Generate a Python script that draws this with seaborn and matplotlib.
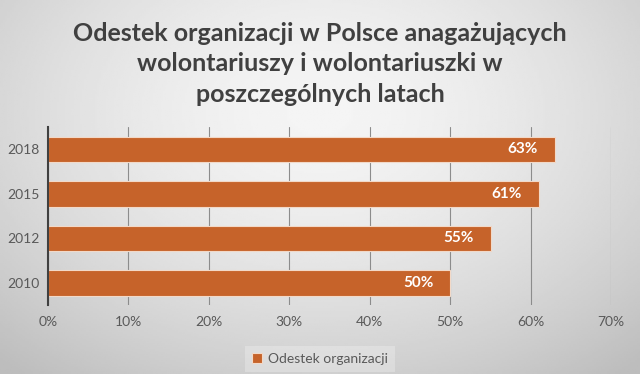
import numpy as np
import pandas as pd
import seaborn as sns
import matplotlib.pyplot as plt
from matplotlib.ticker import PercentFormatter, MultipleLocator

# Data
years = ["2018", "2015", "2012", "2010"]
shares = [63, 61, 55, 50]
series_name = "Odestek organizacji"
title = "Odestek organizacji w Polsce anagażujących\nwolontariuszy i wolontariuszki w\nposzczególnych latach"

df = pd.DataFrame({"rok": years, "odsetek": shares, "seria": series_name})

sns.set_theme(style="white")
plt.rcParams['font.family'] = ['Lato', 'DejaVu Sans']

bar_color = "#C6632A"
text_color = "#595959"

fig = plt.figure(figsize=(6.4, 3.74), dpi=100)

# gradient background (light centre, darker edges)
bg = fig.add_axes([0, 0, 1, 1], zorder=-10)
yy, xx = np.mgrid[0:1:200j, 0:1:300j]
r = np.sqrt(((xx - 0.5) / 0.75) ** 2 + ((yy - 0.3) / 0.9) ** 2)
shade = 0.96 - 0.22 * np.clip(r, 0, 1) ** 1.6
bg.imshow(shade, cmap="gray", vmin=0, vmax=1, aspect="auto", extent=[0, 1, 0, 1], origin="upper")
bg.axis("off")

ax = fig.add_axes([0.075, 0.184, 0.88, 0.476])
ax.patch.set_alpha(0)

sns.barplot(data=df, y="rok", x="odsetek", hue="seria", order=years,
            palette=[bar_color], saturation=1, width=0.58, edgecolor="#f2d9c8",
            linewidth=0.8, orient="h", ax=ax)

ax.set_xlim(0, 70)
ax.xaxis.set_major_locator(MultipleLocator(10))
ax.xaxis.set_major_formatter(PercentFormatter(decimals=0))
ax.grid(axis="x", color="#8c8c8c", linewidth=0.8)
ax.set_axisbelow(True)
for s in ["top", "right", "bottom"]:
    ax.spines[s].set_visible(False)
ax.spines["left"].set_color("#404040")
ax.spines["left"].set_linewidth(1.5)
ax.tick_params(axis="x", colors=text_color, labelsize=10, length=0, pad=8)
ax.tick_params(axis="y", colors=text_color, labelsize=10, length=0, pad=6)
ax.set_xlabel("")
ax.set_ylabel("")

for c in ax.containers:
    ax.bar_label(c, labels=[f"{v:.0f}%" for v in c.datavalues], padding=-34,
                 color="white", fontsize=11, fontweight="bold")

ax.legend(loc="upper center", bbox_to_anchor=(0.483, -0.19), frameon=True,
          facecolor="white", framealpha=0.25, edgecolor="none", fontsize=10,
          labelcolor=text_color, handlelength=0.7, handleheight=0.7,
          handletextpad=0.4, borderpad=0.5, fancybox=False)

fig.text(0.5, 0.829, title, ha="center", va="center", fontsize=18,
         fontweight="bold", color="#404040", linespacing=1.4)

fig.savefig("out.png", dpi=100)
